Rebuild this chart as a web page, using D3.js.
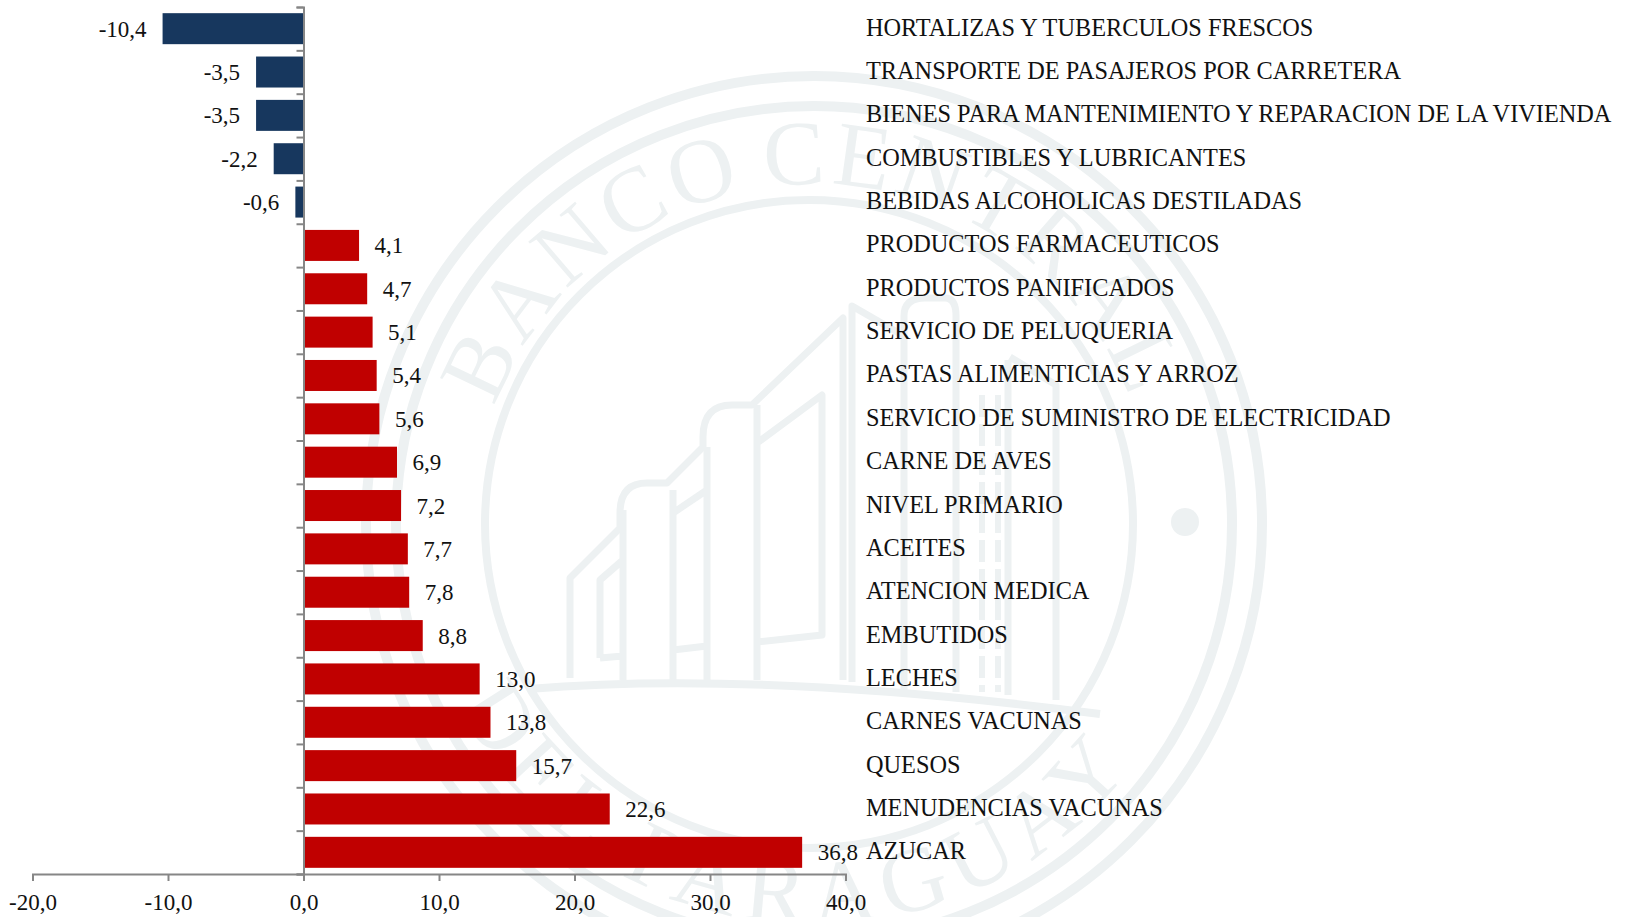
<!DOCTYPE html>
<html>
<head>
<meta charset="utf-8">
<script src="https://cdn.jsdelivr.net/npm/d3@7"></script>
<style>
html, body { margin: 0; padding: 0; background: #fff; }
svg { display: block; }
text { font-family: "Liberation Serif", serif; fill: #111; }
.domain, .tick line { stroke: #868686; stroke-width: 2; }
</style>
</head>
<body>
<svg id="chart" width="1629" height="917"></svg>
<script>
const categories = ['HORTALIZAS Y TUBERCULOS FRESCOS', 'TRANSPORTE DE PASAJEROS POR CARRETERA',
    'BIENES PARA MANTENIMIENTO Y REPARACION DE LA VIVIENDA', 'COMBUSTIBLES Y LUBRICANTES',
    'BEBIDAS ALCOHOLICAS DESTILADAS', 'PRODUCTOS FARMACEUTICOS', 'PRODUCTOS PANIFICADOS',
    'SERVICIO DE PELUQUERIA', 'PASTAS ALIMENTICIAS Y ARROZ', 'SERVICIO DE SUMINISTRO DE ELECTRICIDAD',
    'CARNE DE AVES', 'NIVEL PRIMARIO', 'ACEITES', 'ATENCION MEDICA', 'EMBUTIDOS', 'LECHES',
    'CARNES VACUNAS', 'QUESOS', 'MENUDENCIAS VACUNAS', 'AZUCAR'];

const values = [-10.4, -3.5, -3.5, -2.2, -0.6, 4.1, 4.7, 5.1, 5.4, 5.6,
    6.9, 7.2, 7.7, 7.8, 8.8, 13.0, 13.8, 15.7, 22.6, 36.8];

const xTicks = [-20, -10, 0, 10, 20, 30, 40];

const comma = function (v) { return d3.format('.1f')(v).replace('.', ',').replace('\u2212', '-'); };

const chart = d3.select('#chart');
const xs = d3.scaleLinear().domain([-20, 40]).range([32.5, 845.5]);
const ys = d3.scaleBand().domain(categories).range([7, 874]).paddingInner(0.285).paddingOuter(0.1425);
const rowEdges = d3.scaleLinear().domain([0, categories.length]).range([7, 874]);

// watermark (seal of the bank) sits behind everything
const mark = chart.append('g').attr('fill', 'none').attr('stroke', '#edf1f2').attr('stroke-linejoin', 'round');
const cx = 814, cy = 524;
[[814, 448, 10], [814, 418, 10], [809, 324, 8]].forEach(function (r) {
    mark.append('circle').attr('cx', r[0]).attr('cy', cy).attr('r', r[1]).attr('stroke-width', r[2]);
});
mark.append('circle').attr('cx', 1185).attr('cy', 522).attr('r', 14).attr('fill', '#edf1f2').attr('stroke', 'none');

const defs = chart.append('defs');
const arc = d3.path();
arc.arc(cx, cy, 340, -Math.PI * 0.5 - 1.22, -Math.PI * 0.5 + 1.45);
defs.append('path').attr('id', 'topArc').attr('d', arc.toString());
const arc2 = d3.path();
arc2.arc(cx, cy, 400, Math.PI * 0.5 + 1.1, Math.PI * 0.5 - 1.3, true);
defs.append('path').attr('id', 'bottomArc').attr('d', arc2.toString());

[['#topArc', 'BANCO CENTRAL', 5, -10], ['#bottomArc', 'DEL PARAGUAY', 10, 0]].forEach(function (t) {
    mark.append('text')
        .style('fill', '#edf1f2')
        .attr('stroke', 'none')
        .attr('font-size', 92)
        .attr('letter-spacing', t[2])
        .attr('word-spacing', t[3])
        .append('textPath')
        .attr('href', t[0])
        .text(t[1]);
});

const buildingLines = [
    'M570,678V578L620,528V513Q620,483 647,483H667L703,447V437Q703,405 732,405H752L843,318V680',
    'M600,658V580L623,560M600,658L623,656M623,510V680',
    'M673,490V680M673,513L707,490M673,650L707,646M707,447V680',
    'M757,405V680M757,443L822,395V635L757,642',
    'M852,682V306L904,336',
    'M904,316Q904,298 925,298H945Q956,298 956,316V692M904,316V690',
    'M1008,360V695M1010,357L1056,385V700'
];
mark.selectAll('path.building').data(buildingLines).enter().append('path')
    .attr('class', 'building').attr('d', function (d) { return d; }).attr('stroke-width', 7);
mark.append('path').attr('d', 'M982,395V692M998,395V692').attr('stroke-width', 6).attr('stroke-dasharray', '22 7');
mark.append('path').attr('d', 'M528,689Q760,670 1100,714').attr('stroke-width', 8);

// bars
chart.selectAll('rect.bar').data(values).enter().append('rect')
    .attr('class', 'bar')
    .attr('x', function (d) { return xs(Math.min(d, 0)); })
    .attr('y', function (d, i) { return ys(categories[i]); })
    .attr('width', function (d) { return Math.abs(xs(d) - xs(0)); })
    .attr('height', ys.bandwidth())
    .attr('fill', function (d) { return d < 0 ? '#17375e' : '#c00000'; });

// value labels
chart.selectAll('text.value').data(values).enter().append('text')
    .attr('class', 'value')
    .attr('x', function (d) { return d < 0 ? xs(d) - 16 : xs(d) + 15.5; })
    .attr('y', function (d, i) { return ys(categories[i]) + ys.bandwidth() / 2 + 8; })
    .attr('text-anchor', function (d) { return d < 0 ? 'end' : 'start'; })
    .attr('font-size', 23)
    .text(comma);

// category labels
chart.selectAll('text.cat').data(categories).enter().append('text')
    .attr('class', 'cat')
    .attr('x', 866)
    .attr('y', function (d) { return ys(d) + ys.bandwidth() / 2 + 7; })
    .attr('font-size', 24.3)
    .text(function (d) { return d; });

// axes
const yAxis = chart.append('g')
    .attr('transform', 'translate(' + xs(0) + ',0)')
    .call(d3.axisLeft(rowEdges).ticks(categories.length).tickSize(7).tickFormat(''));
yAxis.selectAll('text').remove();

const xAxis = chart.append('g')
    .attr('transform', 'translate(0,874)')
    .call(d3.axisBottom(xs).tickValues(xTicks).tickSize(7).tickSizeOuter(7).tickFormat(comma));
xAxis.selectAll('text').attr('font-size', 23).attr('font-family', null).attr('y', 18).attr('dy', '0.8em');
</script>
</body>
</html>
